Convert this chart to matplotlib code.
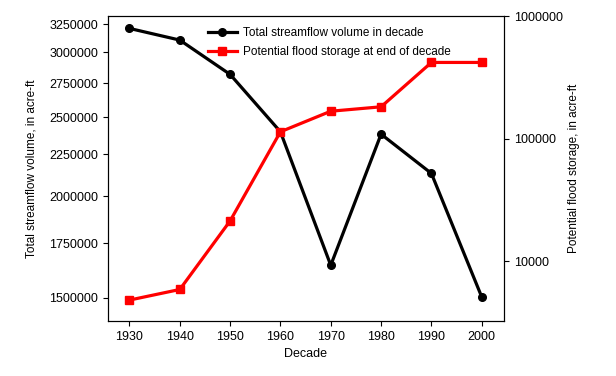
import matplotlib
matplotlib.use("Agg")
import matplotlib.pyplot as plt
from matplotlib.ticker import FixedLocator, FixedFormatter, NullLocator

plt.rcParams['font.family'] = ['Liberation Sans', 'DejaVu Sans']
plt.rcParams['font.size'] = 9

decades = [1930, 1940, 1950, 1960, 1970, 1980, 1990, 2000]
streamflow = [3211000, 3107000, 2820000, 2398000, 1645000, 2382000, 2132000, 1504000]
flood_storage = [4810, 5870, 21300, 113800, 167500, 182000, 419000, 419000]

left_ticks = [1500000, 1750000, 2000000, 2250000, 2500000, 2750000, 3000000, 3250000]
right_ticks = [10000, 100000, 1000000]

fig, ax = plt.subplots(figsize=(6.16, 3.76), dpi=100)
fig.subplots_adjust(left=0.175, right=0.818, top=0.957, bottom=0.146)

# streamflow on a log axis with plain-number labels
l1, = ax.plot(decades, streamflow, '-o', color='black', lw=2.3, ms=5.5)
ax.set_yscale('log')
ax.set_ylim(1405000, 3324000)
ax.yaxis.set_major_locator(FixedLocator(left_ticks))
ax.yaxis.set_major_formatter(FixedFormatter([str(v) for v in left_ticks]))
ax.yaxis.set_minor_locator(NullLocator())
ax.set_xlim(1925.7, 2004.4)
ax.set_xticks(decades)
ax.set_xlabel("Decade")
ax.set_ylabel("Total streamflow volume, in acre-ft", fontsize=8.5, labelpad=8)

# flood storage on the right-hand log axis
ax2 = ax.twinx()
l2, = ax2.plot(decades, flood_storage, '-s', color='red', lw=2.3, ms=5.5)
ax2.set_yscale('log')
ax2.set_ylim(3240, 1000000)
ax2.yaxis.set_major_locator(FixedLocator(right_ticks))
ax2.yaxis.set_major_formatter(FixedFormatter([str(v) for v in right_ticks]))
ax2.yaxis.set_minor_locator(NullLocator())
ax2.set_ylabel("Potential flood storage, in acre-ft", fontsize=8.5)

ax.legend([l1, l2], ["Total streamflow volume in decade",
                     "Potential flood storage at end of decade"],
          loc='upper left', bbox_to_anchor=(0.225, 1.0), frameon=False,
          handlelength=2.5, handletextpad=0.5, labelspacing=0.6, fontsize=8.5)

fig.savefig("out.png", dpi=100)
